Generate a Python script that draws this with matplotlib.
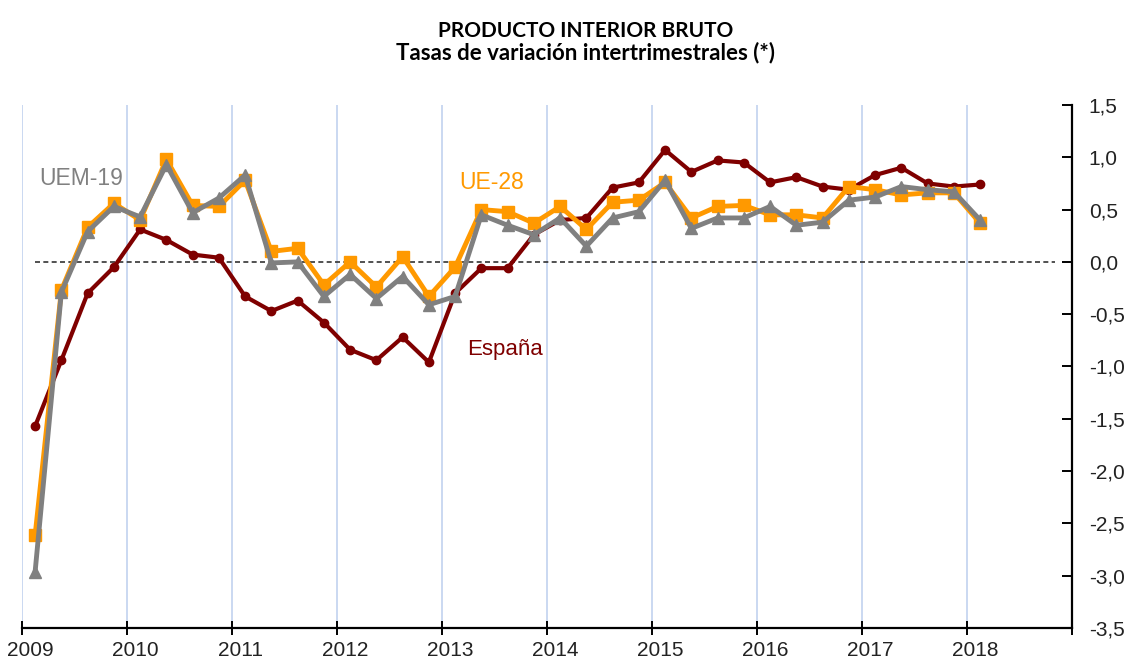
import matplotlib
matplotlib.use('Agg')
import matplotlib.pyplot as plt
import matplotlib.transforms as mtransforms
from matplotlib.ticker import FuncFormatter
import numpy as np

# quarterly series, 2009 Q1 .. 2018 Q1
years = np.repeat(np.arange(2009, 2019), 4)[:37]
quarter = np.tile(np.arange(4), 10)[:37]
t = years + (quarter + 0.5) / 4

espana = [-1.57, -0.94, -0.30, -0.05, 0.31, 0.21, 0.07, 0.04,
          -0.33, -0.47, -0.37, -0.58, -0.84, -0.94, -0.72, -0.96,
          -0.30, -0.06, -0.06, 0.26, 0.40, 0.42, 0.71, 0.76,
          1.07, 0.86, 0.97, 0.95, 0.76, 0.81, 0.72, 0.69,
          0.83, 0.90, 0.75, 0.72, 0.74]
ue28 = [-2.61, -0.27, 0.33, 0.56, 0.40, 0.98, 0.54, 0.53,
        0.78, 0.10, 0.13, -0.22, 0.00, -0.24, 0.05, -0.33,
        -0.05, 0.50, 0.48, 0.37, 0.53, 0.31, 0.57, 0.59,
        0.76, 0.42, 0.53, 0.54, 0.45, 0.45, 0.42, 0.72,
        0.69, 0.64, 0.66, 0.66, 0.37]
uem19 = [-2.96, -0.29, 0.29, 0.53, 0.43, 0.93, 0.47, 0.61,
         0.83, -0.01, 0.00, -0.33, -0.12, -0.35, -0.14, -0.41,
         -0.33, 0.45, 0.35, 0.26, 0.42, 0.15, 0.42, 0.48,
         0.78, 0.32, 0.42, 0.42, 0.53, 0.35, 0.38, 0.59,
         0.62, 0.72, 0.69, 0.67, 0.40]

year_labels = [str(y) for y in range(2009, 2019)]
yticks = np.arange(-3.5, 1.51, 0.5)

red = '#7f0000'
orange = '#ff9900'
grey = '#808080'

fig = plt.figure(figsize=(11.29, 6.64), dpi=100)
ax = fig.add_axes([0.0195, 0.0542, 0.930, 0.7877])

for yr in range(2009, 2019):
    ax.axvline(yr, color='#c6d6f0', lw=1.3, zorder=0)
ax.axhline(0, xmin=0.012, xmax=0.984, color='#333333', lw=1.2, ls=(0, (3, 2)), zorder=1)

ax.plot(t, espana, color=red, lw=3, marker='o', ms=6, zorder=3)
ax.plot(t, ue28, color=orange, lw=3.5, marker='s', ms=9, zorder=4)
ax.plot(t, uem19, color=grey, lw=3.5, marker='^', ms=9, zorder=5)

ax.text(2009.56, 0.80, 'UEM-19', color=grey, fontsize=16.5, ha='center', va='center',
        family='Liberation Sans')
ax.text(2013.47, 0.76, 'UE-28', color=orange, fontsize=16.5, ha='center', va='center',
        family='Liberation Sans')
ax.text(2013.6, -0.84, 'España', color=red, fontsize=16, ha='center', va='center',
        family='Liberation Sans')

ax.set_xlim(2009, 2019)
ax.set_ylim(-3.5, 1.5)

ax.spines['left'].set_visible(False)
ax.spines['top'].set_visible(False)
ax.spines['bottom'].set_linewidth(1.6)
ax.spines['right'].set_linewidth(1.6)

ax.set_xticks(range(2009, 2020))
ax.set_xticklabels(year_labels + [''])
ax.tick_params(axis='x', direction='inout', length=10, width=1.4, pad=4,
               labelsize=15, labelcolor='#222222')
offset = mtransforms.ScaledTranslation(8 / 100, 0, fig.dpi_scale_trans)
for lab in ax.get_xticklabels():
    lab.set_transform(lab.get_transform() + offset)
    lab.set_family('Liberation Sans')

ax.yaxis.tick_right()
ax.set_yticks(yticks)
ax.yaxis.set_major_formatter(FuncFormatter(lambda v, p: f'{v:.1f}'.replace('.', ',')))
ax.tick_params(axis='y', direction='in', length=7, width=1.4, pad=12,
               labelsize=15, labelcolor='#222222')
for lab in ax.get_yticklabels():
    lab.set_family('Liberation Sans')

fig.text(0.519, 0.953, 'PRODUCTO INTERIOR BRUTO', ha='center', va='center',
         fontsize=15, fontweight='bold', family='Lato')
fig.text(0.519, 0.921, 'Tasas de variación intertrimestrales (*)', ha='center', va='center',
         fontsize=16, fontweight='bold', family='Lato')

fig.savefig('out.png', dpi=100)
